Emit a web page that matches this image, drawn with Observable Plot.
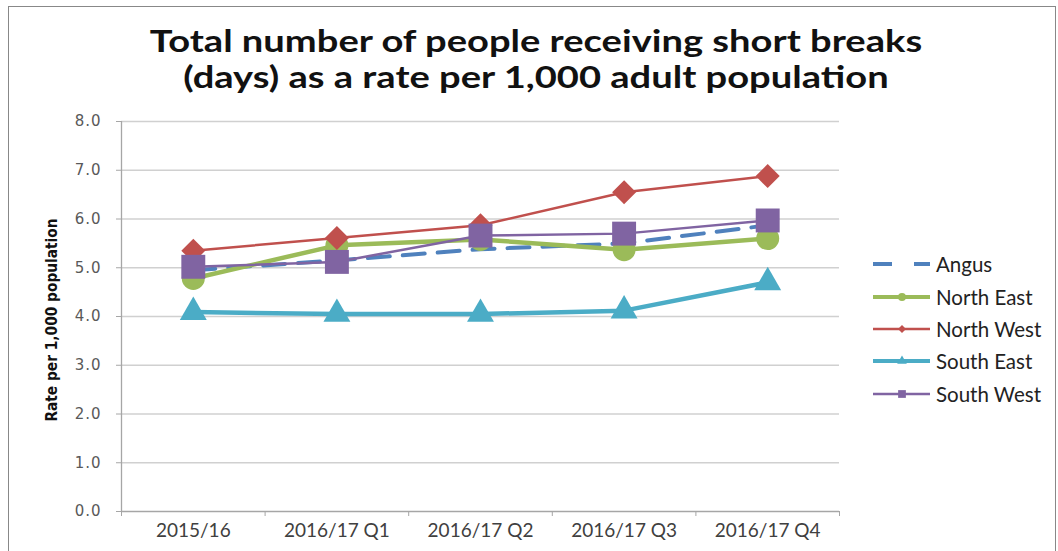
<!DOCTYPE html>
<html>
<head>
<meta charset="utf-8">
<script src="https://cdn.jsdelivr.net/npm/d3@7"></script>
<script src="https://cdn.jsdelivr.net/npm/@observablehq/plot@0.6"></script>
<style>
  html, body { margin: 0; padding: 0; background: #fff; }
  #wrap { position: relative; width: 1058px; height: 551px; overflow: hidden; font-family: Lato, "Open Sans", sans-serif; }
  #border { position: absolute; left: 8px; top: 6px; width: 1048px; height: 600px; border: 1.5px solid #888; box-sizing: border-box; }
  #title { position: absolute; left: 0; top: 22px; width: 1072px; text-align: center; font-family: Lato, sans-serif; font-weight: 700; font-size: 30px; line-height: 36px; color: #111; transform: scaleX(1.27); transform-origin: 536px 0; }
  #chart { position: absolute; left: 0; top: 110px; }
  #chart g[aria-label="y-axis tick label"] { font-family: "DejaVu Sans", sans-serif; font-size: 15px; letter-spacing: 1px; }
  #ylabel { position: absolute; left: 52px; top: 320px; transform: translate(-50%, -50%) rotate(-90deg); white-space: nowrap; font-family: "Liberation Sans Narrow", "DejaVu Sans Condensed", "DejaVu Sans", sans-serif; font-stretch: condensed; font-weight: 700; font-size: 15.3px; color: #111; }
  #legend { position: absolute; left: 872px; top: 248px; }
  .li { display: flex; align-items: center; height: 32.4px; font-size: 20.5px; color: #222; }
  .li svg { margin-right: 5px; }
</style>
</head>
<body>
<div id="wrap">
  <div id="border"></div>
  <div id="title">Total number of people receiving short breaks<br>(days) as a rate per 1,000 adult population</div>
  <div id="chart"></div>
  <div id="ylabel">Rate per 1,000 population</div>
  <div id="legend"></div>
</div>
<script>
const categories = ["2015/16", "2016/17 Q1", "2016/17 Q2", "2016/17 Q3", "2016/17 Q4"];
const seriesNames = ["Angus", "North East", "North West", "South East", "South West"];
const angus     = [4.95, 5.15, 5.38, 5.50, 5.87];
const northEast = [4.78, 5.46, 5.58, 5.37, 5.60];
const northWest = [5.35, 5.61, 5.87, 6.55, 6.88];
const southEast = [4.09, 4.05, 4.05, 4.12, 4.70];
const southWest = [5.02, 5.12, 5.66, 5.70, 5.97];
const yTicks = [0, 1, 2, 3, 4, 5, 6, 7, 8];

const colors = {"Angus": "#4F81BD", "North East": "#9BBB59", "North West": "#C0504D", "South East": "#4BACC6", "South West": "#8064A2"};
const styles = {
  "Angus":      {values: angus,     width: 4,   dash: "22,13", symbol: null,       r: 0},
  "North East": {values: northEast, width: 4.5, dash: null,    symbol: "circle",   r: 11.5},
  "North West": {values: northWest, width: 2.5, dash: null,    symbol: "diamond2", r: 10.8},
  "South East": {values: southEast, width: 4.5, dash: null,    symbol: "triangle", r: 10},
  "South West": {values: southWest, width: 2.5, dash: null,    symbol: "square",   r: 13.5}
};

const idx = categories.map((c, i) => i);
const bounds = categories.map((c, i) => i - 0.5).concat([categories.length - 0.5]);

const marks = [
  Plot.ruleY(yTicks.slice(1), {stroke: "#d0d0d0", strokeWidth: 1.3}),
  Plot.ruleY([0], {stroke: "#a6a6a6", strokeWidth: 1.3}),
  Plot.ruleX([-0.5], {stroke: "#a6a6a6", strokeWidth: 1.3}),
  Plot.axisY({ticks: yTicks, tickSize: 5, tickPadding: 15, tickFormat: d => d.toFixed(1), stroke: "#a6a6a6", fill: "#595959", label: null}),
  Plot.axisX({ticks: bounds, tickSize: 5, tickFormat: () => "", stroke: "#a6a6a6", label: null}),
  Plot.axisX({ticks: idx, tickSize: 0, tickPadding: 12, tickFormat: i => categories[i], fill: "#404040", fontSize: 19, label: null})
];

for (const name of seriesNames) {
  const s = styles[name];
  const data = s.values.map((v, i) => ({i, v}));
  marks.push(Plot.line(data, {x: "i", y: "v", stroke: colors[name], strokeWidth: s.width, strokeDasharray: s.dash, strokeLinejoin: "round"}));
  if (s.symbol) marks.push(Plot.dot(data, {x: "i", y: "v", symbol: s.symbol, r: s.r, fill: colors[name], stroke: "none"}));
}

const chart = Plot.plot({
  width: 850,
  height: 441,
  marginTop: 11,
  marginBottom: 40,
  marginLeft: 121,
  marginRight: 11,
  style: {fontFamily: "Lato, 'Open Sans', sans-serif", background: "transparent", overflow: "visible"},
  x: {type: "linear", domain: [-0.5, categories.length - 0.5]},
  y: {domain: [0, 8]},
  marks
});
document.getElementById("chart").appendChild(chart);

// legend
const symPath = {
  "circle": d3.symbol(d3.symbolCircle, 50)(),
  "diamond2": d3.symbol(d3.symbolDiamond2, 40)(),
  "triangle": d3.symbol(d3.symbolTriangle, 40)(),
  "square": d3.symbol(d3.symbolSquare, 60)()
};
const legend = document.getElementById("legend");
for (const name of seriesNames) {
  const s = styles[name];
  const row = document.createElement("div");
  row.className = "li";
  let inner = "";
  if (s.dash) {
    inner = `<line x1="1" x2="20" y1="8" y2="8" stroke="${colors[name]}" stroke-width="4"/><line x1="42" x2="58" y1="8" y2="8" stroke="${colors[name]}" stroke-width="4"/>`;
  } else {
    inner = `<line x1="1" x2="58" y1="8" y2="8" stroke="${colors[name]}" stroke-width="${name === 'North West' || name === 'South West' ? 2.5 : 4}"/>` +
            `<path d="${symPath[s.symbol]}" transform="translate(30,8)" fill="${colors[name]}"/>`;
  }
  row.innerHTML = `<svg width="59" height="16">${inner}</svg><span>${name}</span>`;
  legend.appendChild(row);
}
</script>
</body>
</html>
